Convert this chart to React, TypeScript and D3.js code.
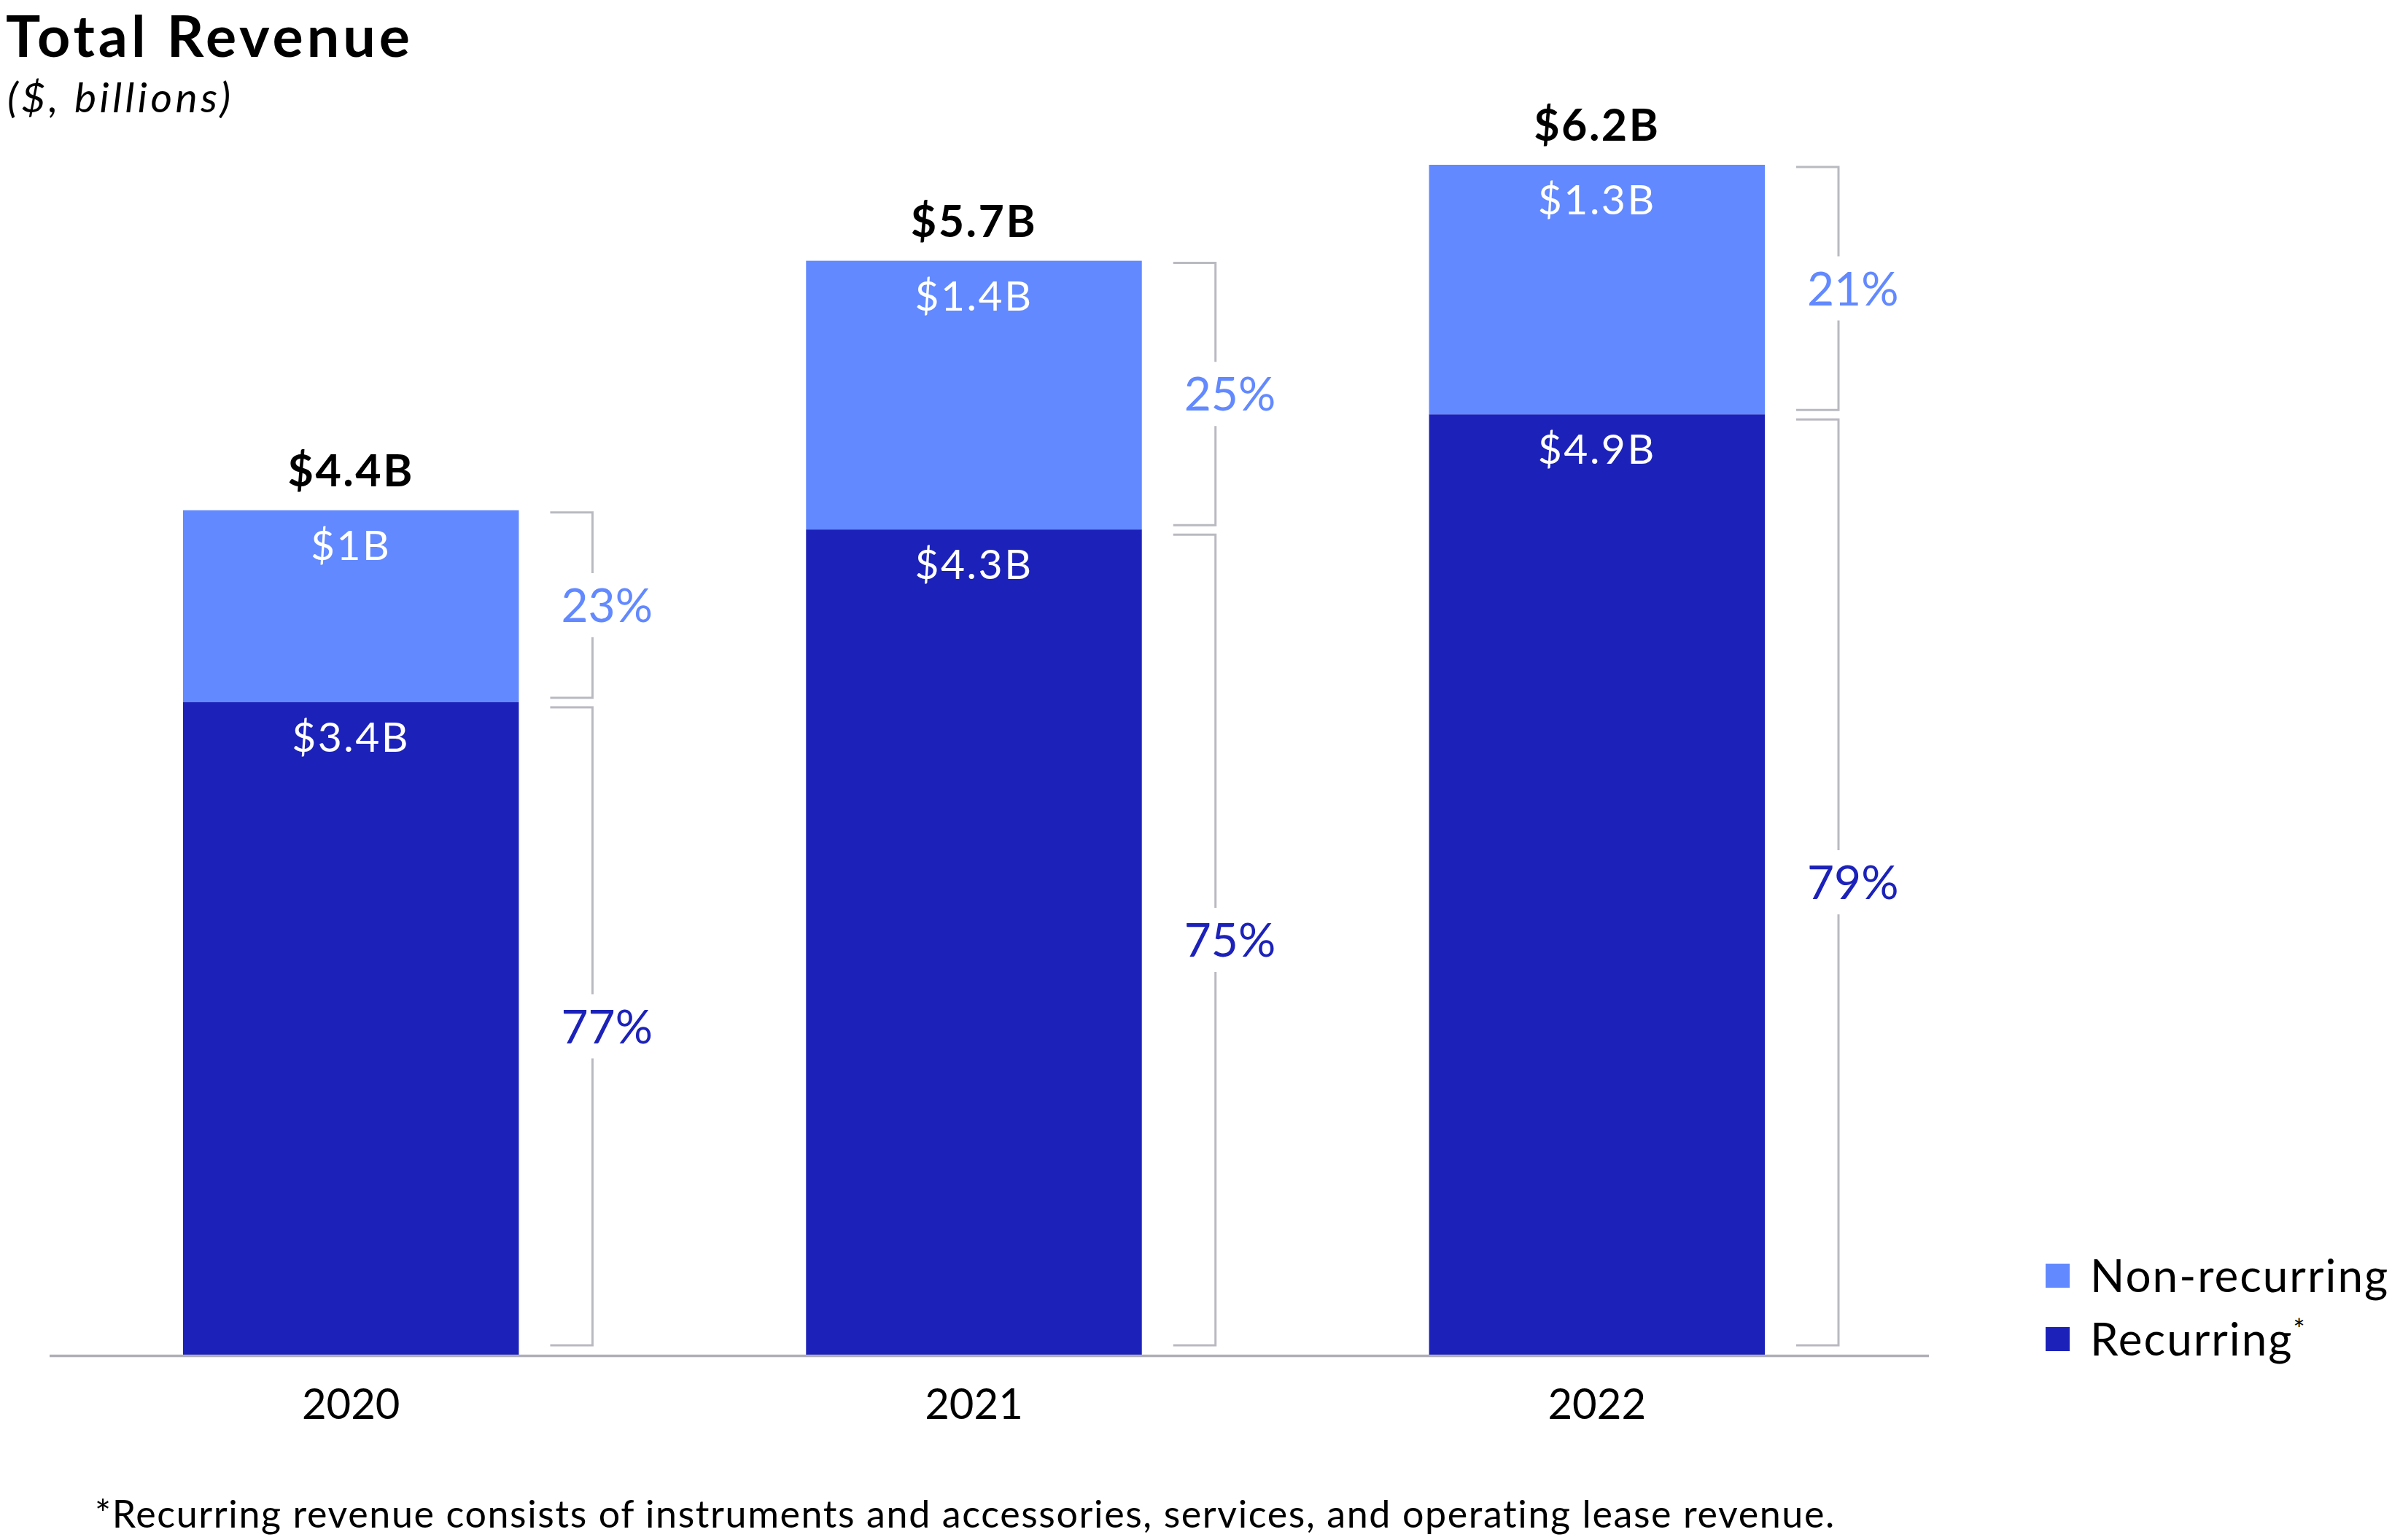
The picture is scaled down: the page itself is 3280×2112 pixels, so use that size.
import { useEffect, useRef } from 'react';
import * as d3 from 'd3';

const years = ['2020', '2021', '2022'];
const recurring = [3.4, 4.3, 4.9];
const nonRecurring = [1.0, 1.4, 1.3];
const totals = [4.4, 5.7, 6.2];
const recurringPct = [77, 75, 79];
const nonRecurringPct = [23, 25, 21];
const seriesKeys = ['recurring', 'nonRecurring'];
const seriesNames = ['Recurring', 'Non-recurring'];

const COLORS: Record<string, string> = {
  recurring: '#1c22b9',
  nonRecurring: '#6289ff',
};

const WIDTH = 3280;
const HEIGHT = 2112;
const FONT = 'Lato, "Open Sans", sans-serif';

export default function App() {
  const svgRef = useRef<SVGSVGElement>(null);

  useEffect(() => {
    if (!svgRef.current) return;
    const svg = d3.select(svgRef.current);
    svg.selectAll('*').remove();

    const rows = years.map((year, i) => ({
      year,
      recurring: recurring[i],
      nonRecurring: nonRecurring[i],
      total: totals[i],
      pct: { recurring: recurringPct[i], nonRecurring: nonRecurringPct[i] },
    }));

    const baseline = 1858;
    const xScale = d3.scaleBand<string>()
      .domain(years)
      .range([251, 2420])
      .paddingInner(0.461)
      .paddingOuter(0);

    const yScale = d3.scaleLinear()
      .domain([0, d3.max(totals) as number])
      .range([baseline, 226]);

    const stacked = d3.stack<any>().keys(seriesKeys)(rows);

    // Title
    svg.append('text')
      .attr('x', 8)
      .attr('y', 78)
      .style('font-family', FONT)
      .style('font-weight', 'bold')
      .style('font-size', '79px')
      .style('letter-spacing', '5px')
      .style('fill', '#000')
      .text('Total Revenue');

    svg.append('text')
      .attr('x', 10)
      .attr('y', 154)
      .style('font-family', FONT)
      .style('font-style', 'italic')
      .style('font-size', '57px')
      .style('letter-spacing', '4.5px')
      .style('fill', '#000')
      .text('($, billions)');

    // Bars
    const layers = svg.append('g')
      .selectAll('g')
      .data(stacked)
      .join('g')
      .attr('fill', (d: any) => COLORS[d.key]);

    layers.selectAll('rect')
      .data((d: any) => d)
      .join('rect')
      .attr('x', (d: any) => xScale(d.data.year) as number)
      .attr('y', (d: any) => yScale(d[1]))
      .attr('width', xScale.bandwidth())
      .attr('height', (d: any) => yScale(d[0]) - yScale(d[1]));

    // Segment value labels
    layers.selectAll('text')
      .data((d: any) => d.map((p: any) => ({ p, key: d.key })))
      .join('text')
      .attr('x', (d: any) => (xScale(d.p.data.year) as number) + xScale.bandwidth() / 2)
      .attr('y', (d: any) => yScale(d.p[1]) + 68)
      .attr('text-anchor', 'middle')
      .style('font-family', FONT)
      .style('font-size', '57px')
      .style('letter-spacing', '2.5px')
      .style('fill', '#fff')
      .text((d: any) => `$${d.p.data[d.key]}B`);

    // Totals
    svg.append('g')
      .selectAll('text')
      .data(rows)
      .join('text')
      .attr('x', (d) => (xScale(d.year) as number) + xScale.bandwidth() / 2)
      .attr('y', (d) => yScale(d.total) - 33)
      .attr('text-anchor', 'middle')
      .style('font-family', FONT)
      .style('font-weight', 'bold')
      .style('font-size', '61px')
      .style('letter-spacing', '2.5px')
      .style('fill', '#000')
      .text((d) => `$${d.total}B`);

    // Brackets with percentages
    const bracketG = svg.append('g');
    stacked.forEach((layer: any) => {
      layer.forEach((p: any) => {
        const right = (xScale(p.data.year) as number) + xScale.bandwidth();
        const tickStart = right + 43;
        const lineX = right + 101;
        const top = yScale(p[1]) + (layer.key === 'nonRecurring' ? 3 : 7);
        const bottom = yScale(p[0]) - (layer.key === 'recurring' ? 13 : 6);
        const mid = (top + bottom) / 2;
        const gap = 44;
        const path = `M${tickStart},${top}H${lineX}V${mid - gap}M${lineX},${mid + gap}V${bottom}H${tickStart}`;
        bracketG.append('path')
          .attr('d', path)
          .attr('fill', 'none')
          .attr('stroke', '#b9b9c1')
          .attr('stroke-width', 3);
        bracketG.append('text')
          .attr('x', right + 58)
          .attr('y', mid + 23)
          .style('font-family', FONT)
          .style('font-size', '64px')
          .style('fill', COLORS[layer.key])
          .text(`${p.data.pct[layer.key]}%`);
      });
    });

    // Axis line
    svg.append('line')
      .attr('x1', 68)
      .attr('x2', 2645)
      .attr('y1', baseline + 1.5)
      .attr('y2', baseline + 1.5)
      .attr('stroke', '#b0afb8')
      .attr('stroke-width', 3.5);

    // Year labels
    svg.append('g')
      .selectAll('text')
      .data(years)
      .join('text')
      .attr('x', (d) => (xScale(d) as number) + xScale.bandwidth() / 2)
      .attr('y', 1946)
      .attr('text-anchor', 'middle')
      .style('font-family', FONT)
      .style('font-size', '58px')
      .style('fill', '#000')
      .text((d) => d);

    // Legend
    const legend = svg.append('g').attr('transform', 'translate(2805,1733)');
    const legendOrder = [1, 0];
    legendOrder.forEach((k, i) => {
      const item = legend.append('g').attr('transform', `translate(0,${i * 87})`);
      item.append('rect')
        .attr('width', 33)
        .attr('height', 33)
        .attr('fill', COLORS[seriesKeys[k]]);
      const t = item.append('text')
        .attr('x', 61)
        .attr('y', 39)
        .style('font-family', FONT)
        .style('font-size', '62px')
        .style('letter-spacing', '2px')
        .style('fill', '#000')
        .text(seriesNames[k]);
      if (seriesKeys[k] === 'recurring') {
        t.append('tspan')
          .attr('dy', -22)
          .style('font-size', '38px')
          .text('*');
      }
    });

    // Footnote
    svg.append('text')
      .attr('x', 130)
      .attr('y', 2095)
      .style('font-family', FONT)
      .style('font-size', '52px')
      .style('letter-spacing', '1.6px')
      .style('fill', '#000')
      .text('*Recurring revenue consists of instruments and accessories, services, and operating lease revenue.');
  }, []);

  return (
    <svg
      ref={svgRef}
      width={WIDTH}
      height={HEIGHT}
      style={{ position: 'absolute', left: 0, top: 0, background: '#fff' }}
    />
  );
}
